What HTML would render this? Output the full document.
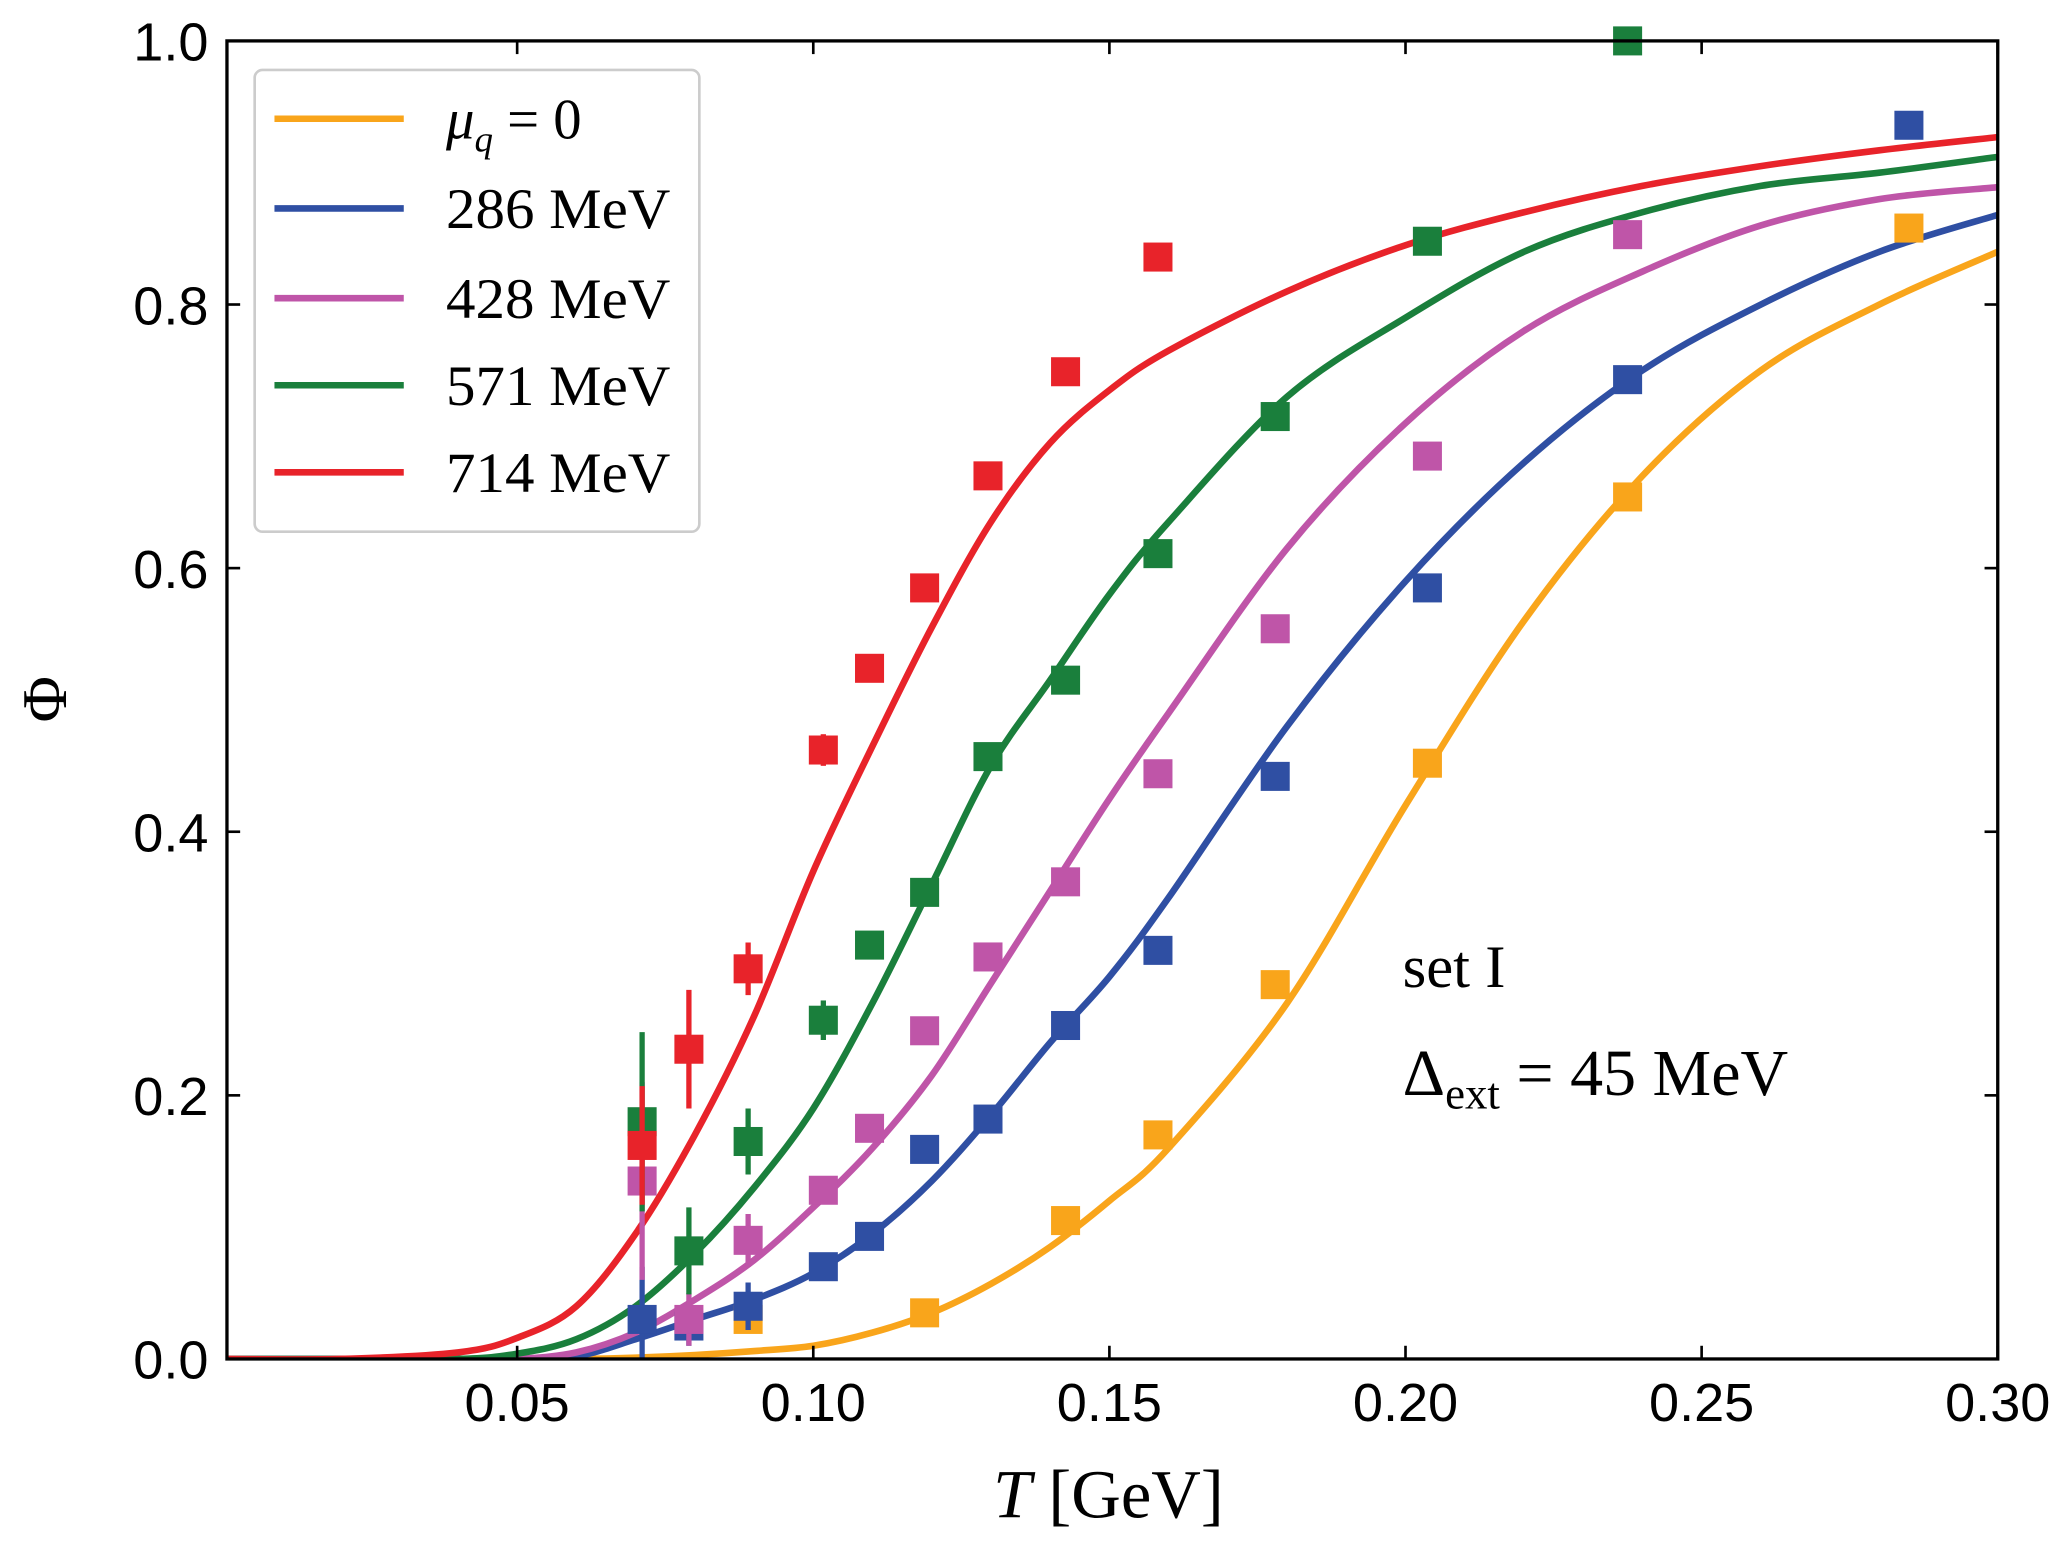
<!DOCTYPE html>
<html><head><meta charset="utf-8"><style>
html,body{margin:0;padding:0;background:#fff}
svg{display:block}
</style></head><body>
<svg id="chart" width="2069" height="1545" viewBox="0 0 1568 1171" preserveAspectRatio="none" xmlns="http://www.w3.org/2000/svg">
<g id="plot"></g>
</svg>
<script>
const categories = ["mu0","mu286","mu428","mu571","mu714"];
const colors = ["#f9a51b","#2f4fa3","#bf55a8","#1a7f3c","#e8232a"];
const legendLabels = ["μ_q = 0","286 MeV","428 MeV","571 MeV","714 MeV"];
const xTicks = [0.05,0.10,0.15,0.20,0.25,0.30];
const xTickLabels = ["0.05","0.10","0.15","0.20","0.25","0.30"];
const yTicks = [0,0.2,0.4,0.6,0.8,1.0];
const yTickLabels = ["0.0","0.2","0.4","0.6","0.8","1.0"];
const curveT = [0.001,0.02,0.04,0.05,0.06,0.07,0.08,0.09,0.10,0.11,0.12,0.13,0.14,0.15,0.16,0.18,0.20,0.22,0.24,0.26,0.28,0.30];
const curveMu0   = [0,0,0,0,0,0.001,0.003,0.006,0.01,0.02,0.035,0.057,0.085,0.12,0.16,0.27,0.42,0.56,0.67,0.75,0.80,0.84];
const curveMu286 = [0,0,0,0,0.002,0.015,0.03,0.045,0.065,0.095,0.135,0.185,0.24,0.29,0.35,0.48,0.59,0.68,0.75,0.80,0.84,0.868];
const curveMu286b = null;
const curveMu428 = [0,0,0,0,0.005,0.02,0.045,0.075,0.115,0.16,0.215,0.285,0.355,0.425,0.49,0.615,0.71,0.78,0.825,0.86,0.88,0.889];
const curveMu571 = [0,0,0,0.004,0.015,0.04,0.08,0.13,0.19,0.27,0.36,0.45,0.515,0.58,0.635,0.73,0.79,0.84,0.87,0.89,0.90,0.912];
const curveMu714 = [0,0,0.005,0.016,0.04,0.095,0.17,0.26,0.37,0.465,0.555,0.635,0.695,0.735,0.765,0.81,0.845,0.87,0.89,0.905,0.917,0.927];
const ptT = [0.0711,0.079,0.089,0.1017,0.1095,0.1188,0.1295,0.1426,0.1582,0.178,0.2037,0.2375,0.285];
const ptMu0   = [null,null,0.03,null,null,0.035,null,0.105,0.17,0.284,0.452,0.654,0.858];
const ptMu286 = [0.03,0.025,0.04,0.07,0.093,0.159,0.182,0.253,0.31,0.442,0.585,0.743,0.936];
const ptMu428 = [0.135,0.03,0.09,0.128,0.175,0.249,0.305,0.362,0.444,0.554,0.685,0.853,null];
const ptMu571 = [0.18,0.082,0.165,0.257,0.314,0.354,0.457,0.515,0.611,0.715,0.848,1.0,null];
const ptMu714 = [0.162,0.235,0.296,0.462,0.524,0.585,0.67,0.749,0.836,null,null,null,null];
const errMu0   = [0,0,0.01,0,0,0,0,0,0,0,0,0,0];
const errMu286 = [0.04,0.015,0.018,0.01,0.008,0,0,0,0,0,0,0,0];
const errMu428 = [0.075,0.02,0.02,0.01,0.008,0,0,0,0,0,0,0,0];
const errMu571 = [0.068,0.033,0.025,0.015,0.01,0,0,0,0,0,0,0,0];
const errMu714 = [0.045,0.045,0.02,0.012,0.008,0,0,0,0,0,0,0,0];

const L=172,R=1514,TOP=31,B=1030, X0=0.001,X1=0.30;
const x=v=>L+(v-X0)/(X1-X0)*(R-L);
const y=v=>B-v*(B-TOP);
const NS="http://www.w3.org/2000/svg";
const g=document.getElementById('plot');
function mk(tag,attrs,parent){const e=document.createElementNS(NS,tag);for(const k in attrs)e.setAttribute(k,attrs[k]);(parent||g).appendChild(e);return e;}
function smooth(P){
  let d='M'+P[0][0]+','+P[0][1];
  for(let i=0;i<P.length-1;i++){
    const p0=P[Math.max(0,i-1)],p1=P[i],p2=P[i+1],p3=P[Math.min(P.length-1,i+2)];
    const c1=[p1[0]+(p2[0]-p0[0])/6,p1[1]+(p2[1]-p0[1])/6];
    const c2=[p2[0]-(p3[0]-p1[0])/6,p2[1]-(p3[1]-p1[1])/6];
    d+=' C'+c1[0]+','+c1[1]+' '+c2[0]+','+c2[1]+' '+p2[0]+','+p2[1];
  }
  return d;
}

const curves=[curveMu0,curveMu286,curveMu428,curveMu571,curveMu714];
const pts=[ptMu0,ptMu286,ptMu428,ptMu571,ptMu714];
const errs=[errMu0,errMu286,errMu428,errMu571,errMu714];

const clip=mk('clipPath',{id:'cp'});mk('rect',{x:L,y:TOP-12,width:R-L,height:B-TOP+12},clip);
const data=mk('g',{'clip-path':'url(#cp)'});


for(let s=0;s<5;s++){
  const c=curves[s];
  const p=mk('path',{d:smooth(curveT.map((t,i)=>[x(t),y(c[i])])),fill:'none',stroke:colors[s],'stroke-width':5,'stroke-linejoin':'round'},data);
  
  
}
for(let s=0;s<5;s++){
  for(let i=0;i<ptT.length;i++){
    const v=pts[s][i]; if(v===null)continue;
    const e=errs[s][i];
    if(e>0){
      const eb=mk('line',{x1:x(ptT[i]),x2:x(ptT[i]),y1:y(v-e),y2:y(v+e),stroke:colors[s],'stroke-width':4},data);
      
      
    }
    const r=mk('rect',{x:x(ptT[i])-11,y:y(v)-11,width:22,height:22,fill:colors[s]},data);
    
    
  }
}
const fr=mk('rect',{x:L,y:TOP,width:R-L,height:B-TOP,fill:'none',stroke:'#000','stroke-width':2.5});


xTicks.forEach((t,i)=>{
  mk('line',{x1:x(t),x2:x(t),y1:B,y2:B-10,stroke:'#000','stroke-width':2});
  mk('line',{x1:x(t),x2:x(t),y1:TOP,y2:TOP+10,stroke:'#000','stroke-width':2});
  const tx=mk('text',{x:x(t),y:B+47,'text-anchor':'middle','font-family':'Liberation Sans, sans-serif','font-size':41});
  tx.textContent=xTickLabels[i];
  
  
});
yTicks.forEach((t,i)=>{
  mk('line',{x1:L,x2:L+10,y1:y(t),y2:y(t),stroke:'#000','stroke-width':2});
  mk('line',{x1:R,x2:R-10,y1:y(t),y2:y(t),stroke:'#000','stroke-width':2});
  const tx=mk('text',{x:L-14,y:y(t)+15,'text-anchor':'end','font-family':'Liberation Sans, sans-serif','font-size':41});
  tx.textContent=yTickLabels[i];
  
  
});
const xt=mk('text',{x:840,y:1150,'text-anchor':'middle','font-family':'Liberation Serif, serif','font-size':52});
xt.innerHTML='<tspan font-style="italic">T</tspan> [GeV]';


const yt=mk('text',{x:0,y:0,'text-anchor':'middle','font-family':'Liberation Serif, serif','font-size':48,transform:'translate(50,530) rotate(-90)'});
yt.textContent='Φ';


const lg=mk('g',{});


mk('rect',{x:193,y:53,width:337,height:350,rx:6,fill:'#fff',stroke:'#ccc','stroke-width':2},lg);
const ly=[90,158,226,292,358];
for(let s=0;s<5;s++){
  const en=mk('g',{},lg);
  
  
  mk('line',{x1:208,x2:306,y1:ly[s],y2:ly[s],stroke:colors[s],'stroke-width':5},en);
  const t=mk('text',{x:338,y:ly[s]+15,'font-family':'Liberation Serif, serif','font-size':43},en);
  if(s===0){ t.innerHTML='<tspan font-style="italic">μ</tspan><tspan font-style="italic" font-size="28" dy="10">q</tspan><tspan dy="-10"> = 0</tspan>'; }
  else { t.setAttribute('textLength',170); t.setAttribute('lengthAdjust','spacingAndGlyphs'); t.textContent=legendLabels[s]; }
}
const a1=mk('text',{x:1063,y:748,'font-family':'Liberation Serif, serif','font-size':46});
a1.textContent='set I';


const a2=mk('text',{x:1063,y:830,'font-family':'Liberation Serif, serif','font-size':50});
a2.innerHTML='Δ<tspan font-size="34" dy="10">ext</tspan><tspan dy="-10"> = 45 MeV</tspan>';


</script>
</body></html>
